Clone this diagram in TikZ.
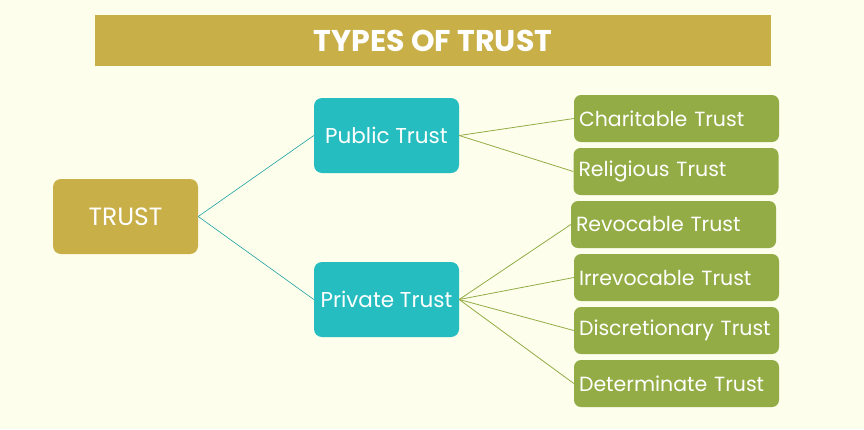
\documentclass[tikz,border=0pt]{standalone}
\usepackage{fontspec}
\setmainfont{Poppins}
\usetikzlibrary{positioning}

\definecolor{bgcream}{HTML}{FDFEEC}
\definecolor{gold}{HTML}{C8AF47}
\definecolor{teal}{HTML}{25BDC0}
\definecolor{olive}{HTML}{93AC45}

\begin{document}
\begin{tikzpicture}[
    x=1pt, y=-1pt,
    every node/.style={text=white},
    rootbox/.style={
        fill=gold, rounded corners=8pt,
        minimum width=145pt, minimum height=75pt,
        font=\fontsize{25}{28}\selectfont,
    },
    midbox/.style={
        fill=teal, rounded corners=8pt,
        minimum width=145pt, minimum height=75pt,
        font=\fontsize{21.5}{25}\selectfont,
    },
    leafbox/.style={
        fill=olive, rounded corners=7pt,
        text width=195pt, inner xsep=5pt,
        minimum height=47pt, align=left,
        font=\fontsize{20.5}{24}\selectfont,
    },
    publine/.style={draw=teal!85!black, line width=0.6pt},
    leafline/.style={draw=olive, line width=0.8pt},
]

% background and frame
\fill[bgcream] (0,0) rectangle (864,429);
\useasboundingbox (0,0) rectangle (864,429);

% title bar
\node[fill=gold, minimum width=676pt, minimum height=51pt,
      font=\fontsize{30}{33}\selectfont\bfseries] (title) at (433,40.5) {TYPES OF TRUST};

\node[rootbox] (trust) at (125.5,216.5) {TRUST};
\node[midbox] (pub) at (386.5,135.5) {Public Trust};
\node[midbox] (priv) at (386.5,299.5) {Private Trust};

\node[leafbox] (char) at (676.5,118.5) {Charitable Trust};
\node[leafbox] (relig) at (676,171.5) {Religious Trust};
\node[leafbox] (revoc) at (673.5,224.5) {Revocable Trust};
\node[leafbox] (irrev) at (676.5,277.5) {Irrevocable Trust};
\node[leafbox] (discr) at (676.5,330.5) {Discretionary Trust};
\node[leafbox] (deter) at (676.5,383.5) {Determinate Trust};

% connectors
\draw[publine] (trust.east) -- (pub.west);
\draw[publine] (trust.east) -- (priv.west);

\foreach \leaf in {char, relig}
    \draw[leafline] (pub.east) -- (\leaf.west);
\foreach \leaf in {revoc, irrev, discr, deter}
    \draw[leafline] (priv.east) -- (\leaf.west);

\end{tikzpicture}
\end{document}
